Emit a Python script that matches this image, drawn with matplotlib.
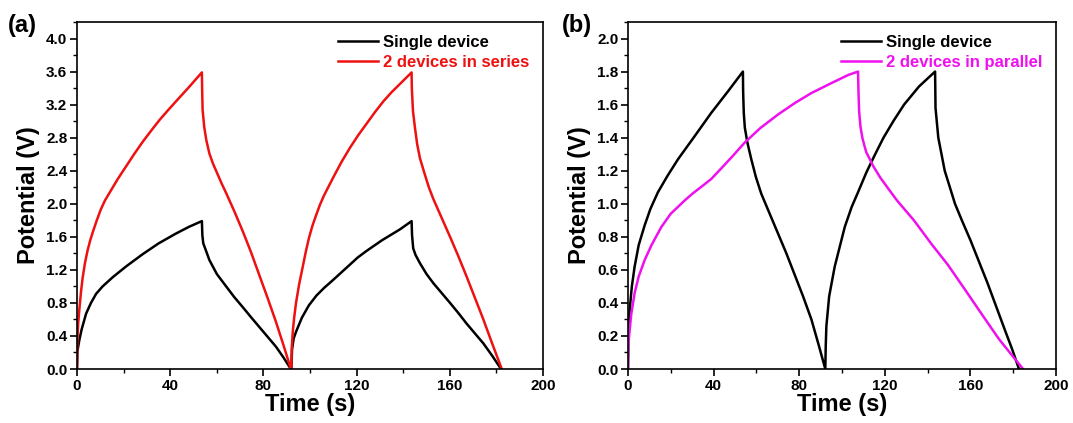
import numpy as np
import matplotlib
matplotlib.use('Agg')
import matplotlib.pyplot as plt
from matplotlib.ticker import MultipleLocator, FormatStrFormatter

plt.rcParams['font.family'] = ['Liberation Sans', 'DejaVu Sans']
plt.rcParams['font.weight'] = 'bold'

# (a) single device, two charge/discharge cycles
t_single_a = [0, 0.2, 1.0, 2.0, 3.9, 6.0, 8.2, 11.0, 15.3, 21.0, 28.2, 35.0, 42.5, 48.0, 53.6,
              53.8, 54.2, 55.0, 56.8, 60.0, 64.0, 67.5, 71.1, 74.6, 78.2, 81.8, 85.4, 88.6, 91.8,
              92.0, 92.3, 93.0, 94.0, 96.5, 99.5, 102.8, 106.0, 110.0, 113.5, 117.0, 120.5, 124.3,
              131.0, 138.6, 143.6,
              143.8, 144.3, 145.3, 147.2, 150.0, 152.9, 156.5, 160.1, 163.6, 167.2, 170.8, 174.4,
              178.2, 182.0]
v_single_a = [0, 0.22, 0.35, 0.48, 0.67, 0.80, 0.91, 1.00, 1.11, 1.24, 1.39, 1.52, 1.64, 1.72, 1.79,
              1.62, 1.52, 1.46, 1.32, 1.15, 1.00, 0.87, 0.75, 0.63, 0.51, 0.39, 0.27, 0.14, 0.0,
              0.0, 0.24, 0.37, 0.45, 0.62, 0.77, 0.89, 0.98, 1.08, 1.17, 1.26, 1.35, 1.43,
              1.56, 1.69, 1.79,
              1.62, 1.46, 1.38, 1.28, 1.15, 1.04, 0.92, 0.80, 0.68, 0.55, 0.43, 0.31, 0.16, 0.0]

# (a) two devices in series
t_series = [0, 0.15, 0.5, 1.0, 1.7, 2.4, 3.4, 4.5, 5.6, 6.7, 8.5, 10.2, 12.0, 13.9, 17.5, 21.0,
            24.5, 28.2, 31.7, 35.3, 39.0, 42.5, 48.0, 53.6,
            53.7, 53.9, 54.6, 55.5, 56.8, 58.3, 60.0, 62.0, 64.0, 67.5, 71.1, 74.6, 78.2, 81.8,
            85.4, 88.6, 91.8,
            92.0, 92.15, 92.6, 93.2, 94.0, 95.3, 96.9, 98.2, 99.5, 101.0, 102.6, 104.3, 106.0,
            108.0, 110.0, 113.6, 117.2, 120.7, 124.3, 127.9, 131.5, 135.0, 138.6, 143.6,
            143.7, 144.2, 145.0, 146.0, 147.2, 149.0, 151.0, 152.9, 156.5, 160.1, 163.6, 167.2,
            170.8, 174.4, 178.3, 182.3]
v_series = [0, 0.35, 0.55, 0.72, 0.93, 1.10, 1.28, 1.43, 1.55, 1.65, 1.80, 1.93, 2.04, 2.13, 2.30, 2.45,
            2.60, 2.75, 2.88, 3.01, 3.13, 3.24, 3.41, 3.59,
            3.40, 3.14, 2.93, 2.77, 2.61, 2.49, 2.38, 2.25, 2.13, 1.91, 1.67, 1.42, 1.14, 0.86,
            0.57, 0.29, 0.0,
            0.0, 0.25, 0.45, 0.62, 0.80, 1.02, 1.24, 1.42, 1.58, 1.73, 1.86, 1.99, 2.10,
            2.21, 2.32, 2.51, 2.68, 2.83, 2.97, 3.11, 3.24, 3.35, 3.45, 3.59,
            3.40, 3.12, 2.93, 2.72, 2.55, 2.38, 2.20, 2.06, 1.83, 1.60, 1.37, 1.12,
            0.86, 0.60, 0.30, 0.0]

# (b) single device
t_single_b = [0, 0.2, 0.8, 1.8, 3.1, 5.0, 7.8, 10.5, 14.0, 18.5, 23.4, 31.2, 38.9, 46.7, 53.7,
              53.8, 54.1, 54.6, 55.8, 57.6, 59.8, 62.3, 66.2, 70.1, 74.0, 77.9, 81.8, 85.7, 89.0, 92.2,
              92.4, 92.7, 94.0, 96.6, 101.3, 104.5, 107.5, 111.4, 115.5, 119.4, 124.0, 129.0, 136.0, 143.5,
              143.7, 145.0, 148.0, 152.8, 156.0, 160.0, 164.0, 168.0, 172.0, 176.0, 179.5, 182.7]
v_single_b = [0, 0.2, 0.36, 0.50, 0.62, 0.75, 0.87, 0.97, 1.07, 1.17, 1.27, 1.41, 1.55, 1.68, 1.80,
              1.68, 1.55, 1.46, 1.37, 1.27, 1.16, 1.06, 0.94, 0.82, 0.70, 0.57, 0.44, 0.30, 0.15, 0.0,
              0.14, 0.26, 0.44, 0.62, 0.86, 0.98, 1.07, 1.19, 1.30, 1.40, 1.50, 1.60, 1.71, 1.80,
              1.58, 1.40, 1.20, 1.00, 0.90, 0.78, 0.65, 0.52, 0.38, 0.24, 0.12, 0.0]

# (b) two devices in parallel
t_parallel = [0, 0.1, 0.5, 1.5, 3.1, 5.0, 7.8, 11.0, 15.6, 20.0, 26.5, 30.0, 34.0, 38.9, 44.0, 49.0,
              54.5, 62.0, 70.1, 78.0, 85.7, 95.0, 103.0, 107.5,
              107.7, 108.0, 108.6, 109.5, 110.5, 111.4, 113.0, 114.5, 117.8, 121.7, 125.7, 133.6,
              141.6, 149.5, 157.5, 165.4, 173.4, 179.0, 184.6]
v_parallel = [0, 0.12, 0.2, 0.33, 0.46, 0.56, 0.66, 0.75, 0.86, 0.94, 1.02, 1.06, 1.10, 1.15, 1.22, 1.29,
              1.37, 1.46, 1.54, 1.61, 1.67, 1.73, 1.78, 1.80,
              1.68, 1.56, 1.47, 1.40, 1.35, 1.31, 1.27, 1.23, 1.16, 1.09, 1.02, 0.90,
              0.76, 0.63, 0.48, 0.33, 0.18, 0.09, 0.0]

fig = plt.figure(figsize=(10.73, 4.23), dpi=100)
ax1 = fig.add_axes([77 / 1073, 54 / 423, 466 / 1073, 347 / 423])
ax2 = fig.add_axes([628 / 1073, 54 / 423, 428 / 1073, 347 / 423])

ax1.plot(t_single_a, v_single_a, color='black', lw=1.8, label='Single device')
ax1.plot(t_series, v_series, color='#ee1111', lw=1.8, label='2 devices in series')
ax2.plot(t_single_b, v_single_b, color='black', lw=1.8, label='Single device')
ax2.plot(t_parallel, v_parallel, color='#ee11ee', lw=1.8, label='2 devices in parallel')

for ax, ymax, ystep in [(ax1, 4.2, 0.4), (ax2, 2.1, 0.2)]:
    ax.set_xlim(0, 200)
    ax.set_ylim(0, ymax)
    ax.xaxis.set_major_locator(MultipleLocator(40))
    ax.xaxis.set_minor_locator(MultipleLocator(20))
    ax.yaxis.set_major_locator(MultipleLocator(ystep))
    ax.yaxis.set_minor_locator(MultipleLocator(ystep / 2))
    ax.yaxis.set_major_formatter(FormatStrFormatter('%.1f'))
    ax.tick_params(which='major', direction='out', length=5, width=1.2, labelsize=11, pad=2)
    ax.tick_params(which='minor', direction='out', length=3, width=1.0)
    for lab in ax.get_xticklabels() + ax.get_yticklabels():
        lab.set_fontweight('bold')
    for sp in ax.spines.values():
        sp.set_linewidth(1.2)
    ax.set_xlabel('Time (s)', fontsize=17, fontweight='bold', labelpad=0)
    ax.set_ylabel('Potential (V)', fontsize=17, fontweight='bold', labelpad=4)
    ax.legend(loc='upper right', frameon=False, handlelength=2.4,
              handletextpad=0.3, labelspacing=0.3, borderaxespad=0.4,
              labelcolor='linecolor', prop={'weight': 'bold', 'size': 12})

fig.text(8 / 1073, 1 - 14 / 423, '(a)', fontsize=17, fontweight='bold', va='top', ha='left')
fig.text(562 / 1073, 1 - 14 / 423, '(b)', fontsize=17, fontweight='bold', va='top', ha='left')

fig.savefig('out.png', dpi=100)
